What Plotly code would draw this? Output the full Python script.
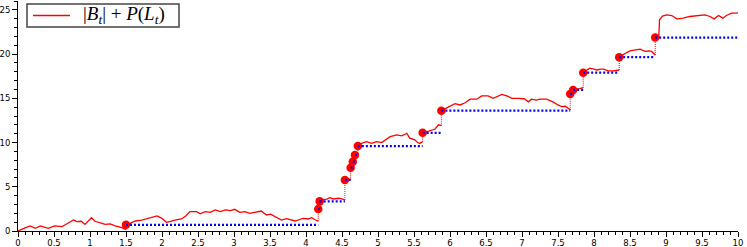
import plotly.graph_objects as go

# ---- data ----
# continuous pieces of |B_t| + P(L_t) between jumps
seg_t = [
    [0, 0.05, 0.1, 0.17, 0.24, 0.31, 0.36, 0.42, 0.51, 0.61, 0.65, 0.72, 0.77, 0.82, 0.88, 0.93, 1.02, 1.07, 1.12, 1.21, 1.28, 1.35, 1.44, 1.5],
    [1.5, 1.53, 1.58, 1.63, 1.72, 1.81, 1.87, 1.93, 2.0, 2.06, 2.12, 2.18, 2.27, 2.33, 2.39, 2.48, 2.53, 2.6, 2.67, 2.74, 2.81, 2.88, 2.95, 3.01, 3.08, 3.15, 3.22, 3.3, 3.38, 3.45, 3.51, 3.57, 3.66, 3.73, 3.8, 3.85, 3.91, 3.96, 4.03, 4.08, 4.12, 4.17],
    [4.17, 4.19],
    [4.19, 4.24, 4.29, 4.33, 4.38, 4.45, 4.5, 4.54],
    [4.54, 4.58, 4.62],
    [4.62, 4.65],
    [4.65, 4.68],
    [4.68, 4.72],
    [4.72, 4.75, 4.8, 4.84, 4.91, 4.98, 5.05, 5.11, 5.17, 5.26, 5.33, 5.4, 5.44, 5.51, 5.55, 5.58, 5.62],
    [5.62, 5.67, 5.72, 5.79, 5.84, 5.88],
    [5.88, 5.95, 6.0, 6.07, 6.14, 6.21, 6.28, 6.37, 6.44, 6.53, 6.6, 6.66, 6.72, 6.79, 6.86, 6.95, 7.03, 7.09, 7.13, 7.2, 7.25, 7.34, 7.43, 7.5, 7.55, 7.6, 7.64, 7.67],
    [7.67, 7.69, 7.71],
    [7.71, 7.76, 7.8, 7.85],
    [7.85, 7.9, 7.94, 8.0, 8.04, 8.09, 8.13, 8.2, 8.27, 8.35],
    [8.35, 8.41, 8.46, 8.5, 8.57, 8.64, 8.71, 8.76, 8.8, 8.85],
    [8.85, 8.9, 8.91, 8.95, 9.01, 9.08, 9.15, 9.24, 9.33, 9.43, 9.54, 9.61, 9.67, 9.73, 9.79, 9.84, 9.91, 9.98, 10.0],
]
seg_y = [
    [0.0, 0.2, 0.35, 0.57, 0.3, 0.57, 0.45, 0.3, 0.57, 0.5, 0.68, 1.0, 1.24, 1.05, 1.1, 0.75, 1.5, 1.1, 0.98, 0.75, 0.8, 0.57, 0.38, 0.15],
    [0.7, 0.75, 0.95, 1.13, 1.24, 1.43, 1.5, 1.7, 1.43, 0.98, 1.1, 1.24, 1.36, 1.7, 2.19, 2.19, 1.95, 2.19, 2.1, 2.38, 2.2, 2.38, 2.3, 2.45, 2.1, 2.19, 2.0, 2.1, 2.26, 1.81, 1.9, 1.62, 1.24, 1.4, 1.24, 1.13, 1.3, 1.43, 1.36, 1.5, 1.3, 1.1],
    [2.49, 2.49],
    [3.35, 3.55, 3.6, 3.77, 3.62, 3.7, 3.62, 3.5],
    [5.77, 5.9, 5.8],
    [7.16, 7.3],
    [7.84, 8.0],
    [8.6, 8.8],
    [9.6, 9.84, 10.0, 10.1, 9.9, 10.1, 10.0, 10.3, 10.67, 10.86, 10.75, 11.05, 10.49, 10.3, 10.0, 9.9, 10.1],
    [11.1, 11.2, 11.35, 11.5, 12.0, 11.9],
    [13.6, 13.9, 14.1, 14.4, 14.25, 14.5, 14.9, 14.9, 15.27, 15.27, 15.0, 15.2, 15.45, 15.27, 15.0, 15.0, 14.95, 14.6, 14.9, 14.8, 14.9, 14.9, 14.6, 14.25, 14.06, 14.1, 13.9, 13.7],
    [15.5, 15.7, 15.6],
    [15.95, 16.0, 16.1, 16.2],
    [17.9, 18.2, 18.4, 18.3, 18.2, 18.3, 18.3, 18.1, 18.1, 18.2],
    [19.65, 19.99, 20.2, 20.36, 20.45, 20.55, 20.3, 20.35, 20.3, 19.9],
    [21.87, 21.9, 23.87, 24.3, 24.43, 24.36, 23.98, 24.06, 24.25, 24.36, 24.43, 24.25, 23.98, 24.36, 24.06, 24.36, 24.62, 24.62, 24.7],
]
# jump times and the level P(L_t) right after each jump
jump_t = [1.5, 4.17, 4.19, 4.54, 4.62, 4.65, 4.68, 4.72, 5.62, 5.88, 7.67, 7.71, 7.85, 8.35, 8.85]
jump_y = [0.7, 2.49, 3.35, 5.77, 7.16, 7.84, 8.6, 9.6, 11.1, 13.6, 15.5, 15.95, 17.9, 19.65, 21.87]

x_ticks = [0, 0.5, 1, 1.5, 2, 2.5, 3, 3.5, 4, 4.5, 5, 5.5, 6, 6.5, 7, 7.5, 8, 8.5, 9, 9.5, 10]
x_tick_labels = ["0", "0.5", "1", "1.5", "2", "2.5", "3", "3.5", "4", "4.5", "5", "5.5", "6", "6.5", "7", "7.5", "8", "8.5", "9", "9.5", "10"]
y_ticks = [0, 5, 10, 15, 20, 25]
y_tick_labels = ["0", "5", "10", "15", "20", "25"]
legend_label = "|<i>B</i><sub><i>t</i></sub>| + <i>P</i>(<i>L</i><sub><i>t</i></sub>)"

# ---- build traces ----
rx, ry = [], []
for ts, ys in zip(seg_t, seg_y):
    rx += ts + [None]
    ry += ys + [None]

vx, vy = [], []
for k, (t, y) in enumerate(zip(jump_t, jump_y)):
    prev_y = seg_y[k][-1]
    vx += [t, t, None]
    vy += [prev_y, y, None]

bx, by = [], []
for k, (t, y) in enumerate(zip(jump_t, jump_y)):
    t_end = jump_t[k + 1] if k + 1 < len(jump_t) else 10
    bx += [t, t_end, None]
    by += [y, y, None]

fig = go.Figure()
fig.add_trace(go.Scatter(x=vx, y=vy, mode="lines", showlegend=False,
                         line=dict(color="#ff0000", width=1, dash="1px,1px"), hoverinfo="skip"))
fig.add_trace(go.Scatter(x=rx, y=ry, mode="lines", name=legend_label, showlegend=False,
                         line=dict(color="#ff0000", width=1.3), connectgaps=False))
fig.add_trace(go.Scatter(x=jump_t, y=jump_y, mode="markers", showlegend=False,
                         marker=dict(color="#ff0000", size=8.5, line=dict(width=0))))
fig.add_trace(go.Scatter(x=bx, y=by, mode="lines", showlegend=False,
                         line=dict(color="#0000ff", width=2.2, dash="2px,2px"), connectgaps=False))

axis_common = dict(showline=True, linecolor="black", linewidth=1, ticks="outside",
                   tickcolor="black", ticklen=5, tickwidth=1, showgrid=False, zeroline=False,
                   automargin=False,
                   tickfont=dict(family="DejaVu Sans", size=8.5, color="black"))
fig.update_xaxes(range=[0, 10], tickvals=x_ticks, ticktext=x_tick_labels,
                 minor=dict(dtick=0.1, ticks="outside", ticklen=3, tickcolor="black", showgrid=False),
                 ticklabelstandoff=-1,
                 **axis_common)
fig.update_yaxes(range=[0, 26], tickvals=y_ticks, ticktext=y_tick_labels,
                 minor=dict(dtick=1, ticks="outside", ticklen=3, tickcolor="black", showgrid=False),
                 **axis_common)

# hand-drawn legend box (paper coords: plot area spans x 18..738 px, y 1..231 px)
def px_x(p):
    return (p - 18) / 720.0

def px_y(p):
    return (231 - p) / 230.0

fig.add_shape(type="rect", xref="paper", yref="paper",
              x0=px_x(27), x1=px_x(179), y0=px_y(27), y1=px_y(4),
              line=dict(color="#444444", width=1.5), fillcolor="white", layer="above")
fig.add_shape(type="line", xref="paper", yref="paper",
              x0=px_x(33), x1=px_x(70), y0=px_y(15.5), y1=px_y(15.5),
              line=dict(color="#ff0000", width=1.5), layer="above")
fig.add_annotation(xref="paper", yref="paper", x=px_x(81), y=px_y(15.5),
                   xanchor="left", yanchor="middle", showarrow=False,
                   text=legend_label,
                   font=dict(family="Liberation Serif", size=19, color="black"))

fig.update_layout(
    width=747, height=247,
    margin=dict(l=18, r=9, t=1, b=16),
    plot_bgcolor="white", paper_bgcolor="white",
    showlegend=False,
)
fig.write_html("out.html", config={"displayModeBar": False},
               post_script="document.body.style.margin='0';")
